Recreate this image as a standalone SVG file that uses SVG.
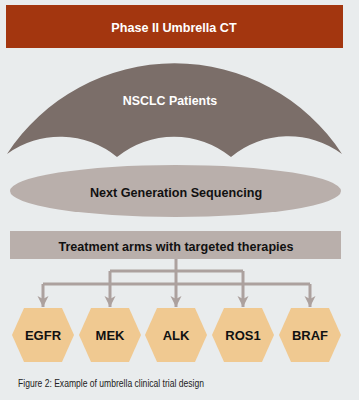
<svg xmlns="http://www.w3.org/2000/svg" width="359" height="400" viewBox="0 0 359 400">
<defs>
<style>
.t{font-family:"Liberation Sans",Arial,sans-serif;font-weight:bold;text-anchor:middle}
.conn{fill:none;stroke:#aca19e;stroke-width:3}
.hex{fill:#f0c991}
.hl{font-family:"Liberation Sans",Arial,sans-serif;font-weight:bold;font-size:13px;text-anchor:middle;fill:#111}
</style>
<marker id="ah" markerUnits="userSpaceOnUse" markerWidth="12" markerHeight="12" refX="11" refY="6" orient="auto">
<path d="M0,0.5 L11,6 L0,11.5 L3,6 Z" fill="#aca19e"/>
</marker>
</defs>
<rect width="359" height="400" fill="#e9eced"/>
<g id="phase">
<rect x="6" y="5" width="337" height="43" fill="#a3360f"/>
<text class="t" x="174" y="32" font-size="12.6" fill="#fff">Phase II Umbrella CT</text>
</g>
<g id="nsclc">
<path d="M7,154 A200,200 0 0 1 342,154 A90,90 0 0 0 231,157 A90,90 0 0 0 117,157 A90,90 0 0 0 7,154 Z" fill="#7b6e69"/>
<text class="t" x="170" y="105" font-size="12.4" fill="#fff">NSCLC Patients</text>
</g>
<g id="ngs">
<ellipse cx="175.5" cy="191" rx="165.5" ry="26" fill="#b9afab"/>
<text class="t" x="176" y="197" font-size="12.6" fill="#111">Next Generation Sequencing</text>
</g>
<g id="arms">
<rect x="10" y="231" width="331" height="28" fill="#b9afab"/>
<text class="t" x="176" y="251" font-size="12.6" fill="#111">Treatment arms with targeted therapies</text>
</g>
<g id="connectors">
<path class="conn" d="M110,271 H243"/>
<path class="conn" d="M43,284 H310"/>
<path class="conn" d="M176,259 V307" marker-end="url(#ah)"/>
<path class="conn" d="M110,271 V307" marker-end="url(#ah)"/>
<path class="conn" d="M243,271 V307" marker-end="url(#ah)"/>
<path class="conn" d="M43,284 V307" marker-end="url(#ah)"/>
<path class="conn" d="M310,284 V307" marker-end="url(#ah)"/>
</g>
<g id="egfr">
<polygon class="hex" points="24,308 62,308 74,335 62,362 24,362 12,335"/>
<text class="hl" x="43" y="340">EGFR</text>
</g>
<g id="mek">
<polygon class="hex" points="91,308 129,308 141,335 129,362 91,362 79,335"/>
<text class="hl" x="110" y="340">MEK</text>
</g>
<g id="alk">
<polygon class="hex" points="157,308 195,308 207,335 195,362 157,362 145,335"/>
<text class="hl" x="176" y="340">ALK</text>
</g>
<g id="ros1">
<polygon class="hex" points="224,308 262,308 274,335 262,362 224,362 212,335"/>
<text class="hl" x="243" y="340">ROS1</text>
</g>
<g id="braf">
<polygon class="hex" points="291,308 329,308 341,335 329,362 291,362 279,335"/>
<text class="hl" x="310" y="340">BRAF</text>
</g>
<text x="18" y="387" font-family="'Liberation Sans Narrow','Liberation Sans',Arial,sans-serif" font-size="10" fill="#222" textLength="186" lengthAdjust="spacingAndGlyphs">Figure 2: Example of umbrella clinical trial design</text>
</svg>
